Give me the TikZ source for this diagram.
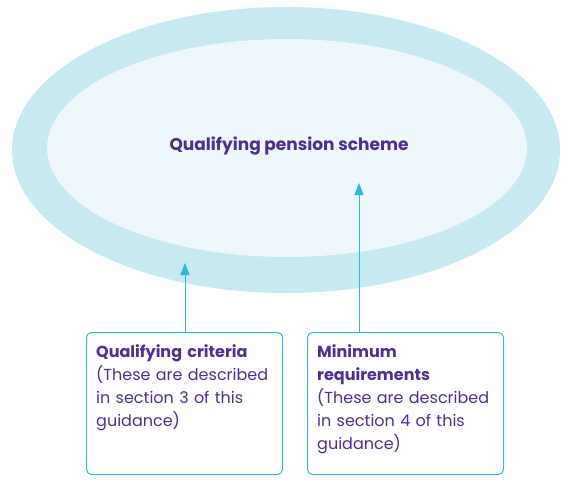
\documentclass[tikz,border=0pt]{standalone}
\usepackage{fontspec}
\setmainfont{Poppins}
\usetikzlibrary{shapes.geometric,arrows.meta}
\definecolor{outerc}{HTML}{C6E9F2}
\definecolor{innerc}{HTML}{EEF7FB}
\definecolor{purp}{HTML}{4F2D91}
\definecolor{cyanl}{HTML}{2BB8DA}
\tikzset{
  ring/.style={ellipse, inner sep=0pt, draw=none},
  boxnode/.style={draw=cyanl, line width=1pt, rounded corners=5pt, minimum width=196pt, minimum height=142pt, anchor=north west, inner sep=0pt},
  boxtext/.style={anchor=north west, inner sep=0pt, text width=186pt, align=left, text=purp, font=\fontsize{16}{23}\selectfont},
  arr/.style={draw=cyanl, line width=1pt, -{Triangle[width=9pt,length=12pt]}},
}
\begin{document}
\begin{tikzpicture}[x=1pt,y=-1pt]
\useasboundingbox (0,0) rectangle (573,483);
\node[ring, fill=outerc, minimum width=548pt, minimum height=286pt] (outer) at (286,150) {};
\node[ring, fill=innerc, minimum width=480pt, minimum height=218pt] (inner) at (287,148) {};
\node[text=purp, font=\fontsize{17}{20}\selectfont\bfseries, inner sep=0pt] (title) at (289,146) {Qualifying pension scheme};
\node[boxnode] (lbox) at (86,332) {};
\node[boxnode] (rbox) at (307,332) {};
\node[boxtext] (ltext) at (96,344) {\textbf{Qualifying criteria}\\(These are described\\in section 3 of this\\guidance)};
\node[boxtext] (rtext) at (317,344) {\textbf{Minimum}\\\textbf{requirements}\\(These are described\\in section 4 of this\\guidance)};
\coordinate (ltip) at (185,263);
\coordinate (rtip) at (359,183);
\draw[arr] (ltip |- lbox.north) -- (ltip);
\draw[arr] (rtip |- rbox.north) -- (rtip);
\end{tikzpicture}
\end{document}
